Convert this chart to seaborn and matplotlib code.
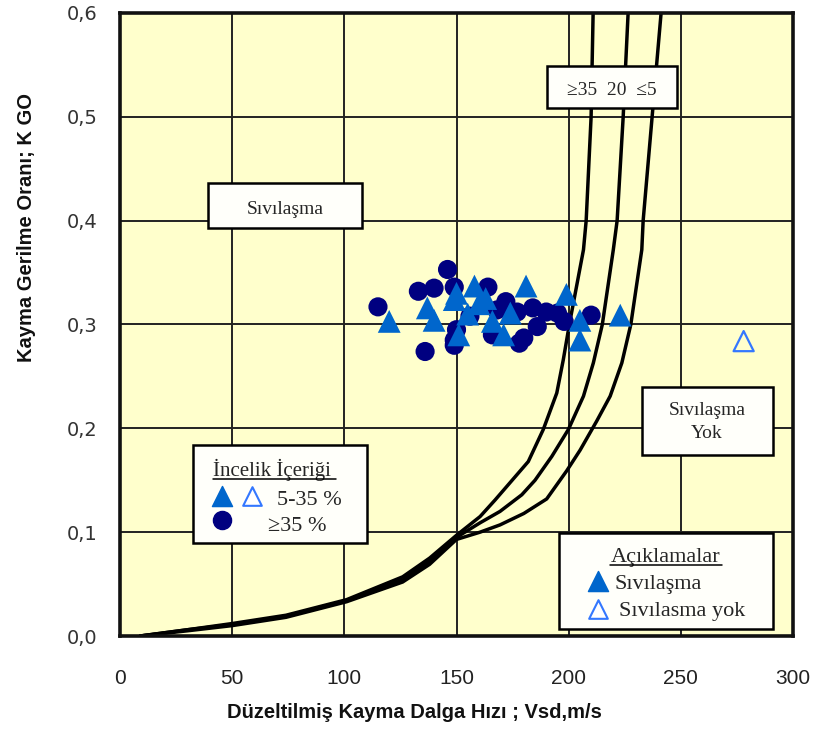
import matplotlib
matplotlib.use("Agg")
import matplotlib.pyplot as plt
from matplotlib.patches import Rectangle
import seaborn as sns

# --- field data: corrected shear-wave velocity (m/s) vs cyclic stress ratio ---
# fines content > 35 %, liquefied
vs_fines_high = [115, 133, 136, 140, 146, 149, 149, 149, 150, 156, 164, 166, 168,
                 172, 177, 178, 180, 184, 186, 190, 195, 198, 210]
k_fines_high = [0.317, 0.332, 0.274, 0.335, 0.353, 0.336, 0.285, 0.280, 0.295, 0.308,
                0.336, 0.290, 0.314, 0.322, 0.312, 0.282, 0.287, 0.316, 0.298, 0.312,
                0.311, 0.303, 0.309]

# fines content 5-35 %, liquefied
vs_fines_mid = [120, 137, 140, 149, 150, 151, 155, 158, 160, 163, 166, 171, 174,
                181, 199, 205, 205, 223]
k_fines_mid = [0.303, 0.316, 0.304, 0.324, 0.330, 0.290, 0.310, 0.337, 0.320, 0.325,
               0.303, 0.290, 0.311, 0.337, 0.329, 0.304, 0.285, 0.309]

# fines content 5-35 %, no liquefaction
vs_no_liq = [278]
k_no_liq = [0.284]

# boundary curves for fines content >=35 %, 20 % and <=5 %
curve_vs_35 = [9, 30, 50, 74, 101, 126, 138, 150, 160.5, 167.2, 172.4, 182.0, 188.7,
               194.7, 197.6, 200.3, 206.6, 207.8, 210.0, 210.9]
curve_k_35 = [0.0, 0.006, 0.012, 0.020, 0.035, 0.057, 0.075, 0.097, 0.115, 0.131, 0.144,
              0.168, 0.199, 0.234, 0.266, 0.300, 0.372, 0.400, 0.500, 0.600]

curve_vs_20 = [9, 30, 50, 74, 101, 126, 138, 150, 160.5, 169.4, 179.1, 185.0, 192.5,
               199.9, 206.6, 211.0, 215.0, 219.9, 221.6, 224.3, 226.5]
curve_k_20 = [0.0, 0.006, 0.011, 0.019, 0.034, 0.054, 0.072, 0.095, 0.109, 0.120, 0.136,
              0.150, 0.173, 0.199, 0.231, 0.263, 0.300, 0.372, 0.400, 0.500, 0.600]

curve_vs_5 = [9, 30, 50, 74, 101, 126, 138, 150, 160.5, 169.4, 180.0, 190.2, 199.1, 205.1,
              212.5, 218.5, 223.7, 227.7, 232.6, 233.2, 237.2, 241.2]
curve_k_5 = [0.0, 0.005, 0.010, 0.018, 0.033, 0.052, 0.069, 0.093, 0.100, 0.107, 0.118,
             0.132, 0.159, 0.179, 0.207, 0.231, 0.263, 0.300, 0.372, 0.400, 0.500, 0.600]

x_ticks = [0, 50, 100, 150, 200, 250, 300]
x_tick_labels = ["0", "50", "100", "150", "200", "250", "300"]
y_ticks = [0.0, 0.1, 0.2, 0.3, 0.4, 0.5, 0.6]
y_tick_labels = ["0,0", "0,1", "0,2", "0,3", "0,4", "0,5", "0,6"]

NAVY = "#000080"
BLUE = "#0066CC"
OPEN_BLUE = "#3377FF"
SERIF = ["Liberation Serif", "DejaVu Serif"]
NARROW = ["Liberation Sans Narrow", "Liberation Sans", "DejaVu Sans"]

sns.set_style("white")
plt.rcParams["font.family"] = ["Liberation Sans", "DejaVu Sans"]

W, H = 816, 740
fig = plt.figure(figsize=(W / 100, H / 100), dpi=100)
ax = fig.add_axes([120 / W, 1 - 636 / H, (793 - 120) / W, (636 - 13) / H])
ax.set_facecolor("#FFFFCC")

# grid
for xv in x_ticks[1:-1]:
    ax.axvline(xv, color="#222222", lw=1.4, zorder=1)
for yv in y_ticks[1:-1]:
    ax.axhline(yv, color="#222222", lw=1.4, zorder=1)

# boundary curves
for cx, cy in [(curve_vs_35, curve_k_35), (curve_vs_20, curve_k_20), (curve_vs_5, curve_k_5)]:
    sns.lineplot(x=cx, y=cy, sort=False, estimator=None, color="black", lw=2.5,
                 ax=ax, zorder=3)

# data points
sns.scatterplot(x=vs_fines_high, y=k_fines_high, marker="o", s=190, color=NAVY,
                edgecolor="none", ax=ax, zorder=4)
sns.scatterplot(x=vs_fines_mid, y=k_fines_mid, marker="^", s=270, color=BLUE,
                edgecolor="none", ax=ax, zorder=5)
ax.scatter(vs_no_liq, k_no_liq, marker="^", s=210, facecolor="none",
           edgecolor=OPEN_BLUE, linewidth=1.6, zorder=5)

ax.set_xlim(0, 300)
ax.set_ylim(0, 0.6)
ax.set_xticks(x_ticks)
ax.set_xticklabels(x_tick_labels, family=NARROW, fontsize=15, color="#222222")
ax.set_yticks(y_ticks)
ax.set_yticklabels(y_tick_labels, family=["DejaVu Sans"], fontsize=14, color="#333333")
ax.tick_params(axis="both", direction="out", length=8, width=1, color="#555555", pad=8)
ax.tick_params(axis="x", pad=16)
for sp in ax.spines.values():
    sp.set_visible(True)
    sp.set_color("#111111")
    sp.set_linewidth(2.6)
    sp.set_zorder(10)
ax.set_xlabel("")
ax.set_ylabel("")

fig.text(414 / W, 1 - 712 / H, "Düzeltilmiş Kayma Dalga Hızı ; Vsd,m/s", ha="center",
         va="center", fontsize=14.5, fontweight="bold", family=NARROW, color="#111111")
fig.text(27 / W, 1 - 228 / H, "Kayma Gerilme Oranı; K GO", ha="center", va="center",
         rotation=90, fontsize=14.5, fontweight="bold", family=NARROW, color="#111111")


def box(x0, y0, x1, y1):
    ax.add_patch(Rectangle((x0, y0), x1 - x0, y1 - y0, transform=ax.transAxes,
                           facecolor="#FFFFFA", edgecolor="black", lw=1.8, zorder=7))


def frac(px, py):
    return (px - 120) / 673, (636 - py) / 623


def label(px, py, s, size, ha="left"):
    ax.text(*frac(px, py), s, transform=ax.transAxes, ha=ha, va="baseline",
            family=SERIF, fontsize=size, zorder=8)


def underline(px0, px1, py):
    ax.plot([frac(px0, 0)[0], frac(px1, 0)[0]], [frac(0, py)[1]] * 2,
            transform=ax.transAxes, color="black", lw=1.1, zorder=8)


# region labels
box(*frac(208, 228), *frac(362, 183))
label(285, 214, "Sıvılaşma", 14, ha="center")

box(*frac(547, 108), *frac(677, 66))
label(612, 95, "≥35  20  ≤5", 14, ha="center")

box(*frac(642, 455), *frac(773, 387))
label(707, 415, "Sıvılaşma", 14, ha="center")
label(707, 438, "Yok", 14, ha="center")

# fines content legend
box(*frac(193, 543), *frac(367, 445))
label(213, 476, "İncelik İçeriği", 15)
underline(213, 336, 479)
ax.scatter(*frac(222, 496), marker="^", s=210, color=BLUE, transform=ax.transAxes, zorder=8)
ax.scatter(*frac(252, 496), marker="^", s=180, facecolor="white", edgecolor=OPEN_BLUE,
           linewidth=1.5, transform=ax.transAxes, zorder=8)
label(277, 505, "5-35 %", 16)
ax.scatter(*frac(222, 520), marker="o", s=170, color=NAVY, transform=ax.transAxes, zorder=8)
label(268, 531, "≥35 %", 16)

# outcome legend
box(*frac(559, 629), *frac(773, 533))
label(666, 562, "Açıklamalar", 16, ha="center")
underline(610, 722, 565)
ax.scatter(*frac(598, 581), marker="^", s=210, color=BLUE, transform=ax.transAxes, zorder=8)
label(614, 589, "Sıvılaşma", 16)
ax.scatter(*frac(598, 609), marker="^", s=180, facecolor="white", edgecolor=OPEN_BLUE,
           linewidth=1.5, transform=ax.transAxes, zorder=8)
label(619, 616, "Sıvılasma yok", 16)

fig.savefig("out.png", dpi=100, facecolor="white")
